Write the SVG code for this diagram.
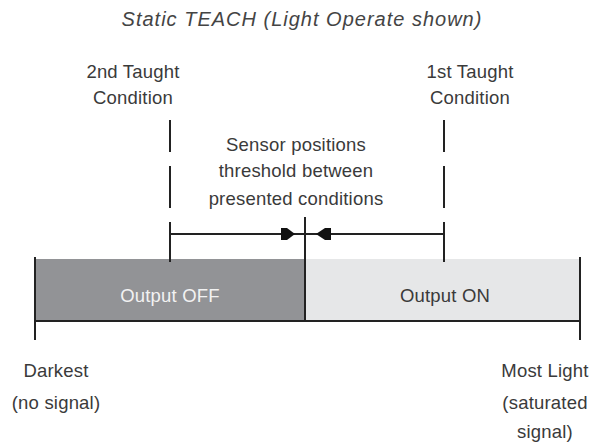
<svg xmlns="http://www.w3.org/2000/svg" width="591" height="443" viewBox="0 0 591 443">
<style>
text{font-family:"Liberation Sans",Arial,sans-serif;font-size:18.5px;fill:#3a3a3a;text-anchor:middle;letter-spacing:0.2px}
.title{font-style:italic;font-size:20px;fill:#444;letter-spacing:1px}
.ln{stroke:#222;stroke-width:2;fill:none}
</style>
<rect width="591" height="443" fill="#fff"/>
<text class="title" x="302" y="26">Static TEACH (Light Operate shown)</text>
<g id="bar">
<rect x="35" y="259" width="270" height="62" fill="#929396"/>
<rect x="305" y="259" width="275" height="62" fill="#e6e7e8"/>
<text x="170" y="302" style="fill:#f2f2f2">Output OFF</text>
<text x="445" y="302">Output ON</text>
</g>
<g id="taught2">
<text x="133" y="78">2nd Taught</text>
<text x="133" y="104">Condition</text>
</g>
<g id="taught1">
<text x="470" y="78">1st Taught</text>
<text x="470" y="104">Condition</text>
</g>
<g id="threshold">
<text x="296" y="151">Sensor positions</text>
<text x="296" y="177">threshold between</text>
<text x="296" y="205">presented conditions</text>
</g>
<g id="darkest">
<text x="56" y="377">Darkest</text>
<text x="56" y="409">(no signal)</text>
</g>
<g id="mostlight">
<text x="545" y="377">Most Light</text>
<text x="545" y="409">(saturated</text>
<text x="545" y="438">signal)</text>
</g>
<g id="connectors">
<line class="ln" x1="170" y1="120" x2="170" y2="152"/>
<line class="ln" x1="170" y1="166" x2="170" y2="208"/>
<line class="ln" x1="170" y1="222" x2="170" y2="262"/>
<line class="ln" x1="444" y1="120" x2="444" y2="152"/>
<line class="ln" x1="444" y1="166" x2="444" y2="208"/>
<line class="ln" x1="444" y1="222" x2="444" y2="262"/>
<line class="ln" x1="170" y1="234" x2="444" y2="234"/>
<line class="ln" x1="305" y1="217" x2="305" y2="321"/>
<polygon points="281,228 287,228 295,234 287,240 281,240" fill="#111"/>
<polygon points="331,228 325,228 316,234 325,240 331,240" fill="#111"/>
<line class="ln" x1="35" y1="257" x2="35" y2="340"/>
<line class="ln" x1="580" y1="257" x2="580" y2="340"/>
<line class="ln" x1="35" y1="321" x2="580" y2="321"/>
</g>
</svg>
